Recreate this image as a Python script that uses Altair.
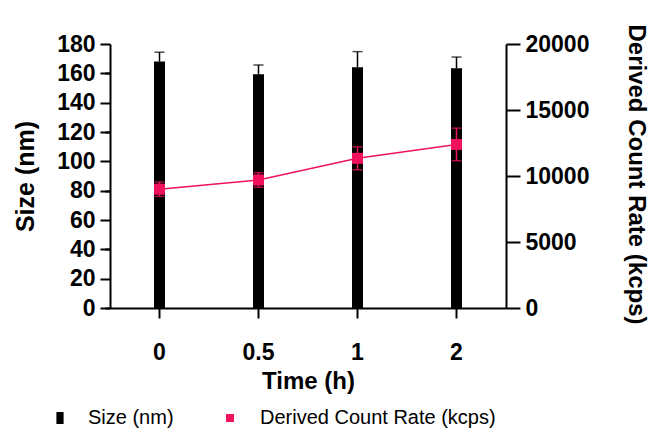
import altair as alt
import pandas as pd

times = ["0", "0.5", "1", "2"]
size_nm = [168.0, 159.3, 164.1, 163.4]
size_sd = [6.4, 6.4, 10.7, 7.7]
rate_kcps = [9000, 9700, 11340, 12390]
rate_sd = [545, 553, 871, 1235]

df = pd.DataFrame({
    "time": times,
    "size": size_nm,
    "size_sd": size_sd,
    "rate": rate_kcps,
    "rate_sd": rate_sd,
    "s1": ["Size (nm)"] * 4,
    "s2": ["Derived Count Rate (kcps)"] * 4,
})

FONT = "Liberation Sans"
PINK = "#f0125c"

base = alt.Chart(df).transform_calculate(
    size_hi="datum.size + datum.size_sd",
    rate_lo="datum.rate - datum.rate_sd",
    rate_hi="datum.rate + datum.rate_sd",
)

x_axis = alt.Axis(
    title="Time (h)", labelAngle=0, tickSize=10, tickWidth=2, domainWidth=2,
    domainColor="black", tickColor="black", labelPadding=23, labelFont=FONT,
    labelFontSize=23, labelFontWeight="bold", labelColor="black",
    titleFont=FONT, titleFontSize=24, titleFontWeight="bold",
    titlePadding=5, titleColor="black",
)
x_enc = alt.X("time:N", sort=times,
              scale=alt.Scale(paddingInner=0, paddingOuter=0), axis=x_axis)

size_scale = alt.Scale(domain=[0, 180], nice=False)

bars = base.mark_bar(size=11).encode(
    x=x_enc,
    y=alt.Y("size:Q", scale=size_scale, axis=alt.Axis(
        orient="left", values=list(range(0, 181, 20)), title="Size (nm)",
        tickSize=10, tickWidth=2, domainWidth=2, domainColor="black",
        tickColor="black", labelPadding=5, labelFont=FONT, labelFontSize=23,
        labelFontWeight="bold", labelColor="black", titleFont=FONT,
        titleFontSize=25, titleFontWeight="bold", titleColor="black",
        titlePadding=18, grid=False)),
    fill=alt.Fill("s1:N", scale=alt.Scale(range=["black"]), legend=alt.Legend(
        title=None, orient="none", legendX=-60, legendY=364,
        symbolType="M-0.6,-1L0.6,-1L0.6,1L-0.6,1Z", symbolSize=144,
        symbolStrokeWidth=0, labelFont=FONT, labelFontSize=20,
        labelColor="black", labelOffset=18, labelLimit=400, padding=0)),
)

err_rule = base.mark_rule(color="black", strokeWidth=1.5).encode(
    x=x_enc,
    y=alt.Y("size:Q", scale=size_scale, axis=alt.Axis(
        orient="left", values=list(range(0, 181, 10)), title=None,
        labels=False, domain=False, tickSize=5, tickWidth=2,
        tickColor="black", grid=False)),
    y2="size_hi:Q",
)
err_cap = base.mark_tick(color="black", thickness=1.5, size=10).encode(
    x=x_enc,
    y=alt.Y("size_hi:Q", scale=size_scale),
)
size_err = alt.layer(err_rule, err_cap)

rate_scale = alt.Scale(domain=[0, 20000], nice=False)
rate_axis = alt.Axis(
    orient="right", values=[0, 5000, 10000, 15000, 20000], format="d",
    title="Derived Count Rate (kcps)", tickSize=14, tickWidth=2,
    domainWidth=2, domainColor="black", tickColor="black", labelPadding=5,
    labelFont=FONT, labelFontSize=23, labelFontWeight="bold",
    labelColor="black", titleFont=FONT, titleFontSize=24,
    titleFontWeight="bold", titleColor="black", titlePadding=35,
    titleY=130, grid=False,
)

line = base.mark_line(color=PINK, strokeWidth=1.5).encode(
    x=x_enc, y=alt.Y("rate:Q", scale=rate_scale, axis=rate_axis))
rate_rule = base.mark_rule(color=PINK, strokeWidth=1.5).encode(
    x=x_enc, y=alt.Y("rate_lo:Q", scale=rate_scale), y2="rate_hi:Q")
rate_cap_lo = base.mark_tick(color=PINK, thickness=1.5, size=10).encode(
    x=x_enc, y=alt.Y("rate_lo:Q", scale=rate_scale))
rate_cap_hi = base.mark_tick(color=PINK, thickness=1.5, size=10).encode(
    x=x_enc, y=alt.Y("rate_hi:Q", scale=rate_scale))
squares = base.mark_square(size=121, opacity=1, filled=True).encode(
    x=x_enc, y=alt.Y("rate:Q", scale=rate_scale),
    color=alt.Color("s2:N", scale=alt.Scale(range=[PINK]), legend=alt.Legend(
        title=None, orient="none", legendX=110, legendY=364,
        symbolType="square", symbolSize=64, symbolStrokeWidth=0,
        labelFont=FONT, labelFontSize=20, labelColor="black",
        labelOffset=20, labelLimit=400, padding=0)),
)
rate_layer = alt.layer(line, rate_rule, rate_cap_lo, rate_cap_hi, squares)

chart = alt.layer(bars, size_err, rate_layer).resolve_scale(
    y="independent"
).properties(
    width=396, height=264,
    autosize=alt.AutoSizeParams(type="none"),
    padding={"left": 102, "top": 36, "right": 148, "bottom": 121},
).configure_view(stroke=None)

chart.save("out.html", embed_options={"renderer": "svg", "actions": False})
